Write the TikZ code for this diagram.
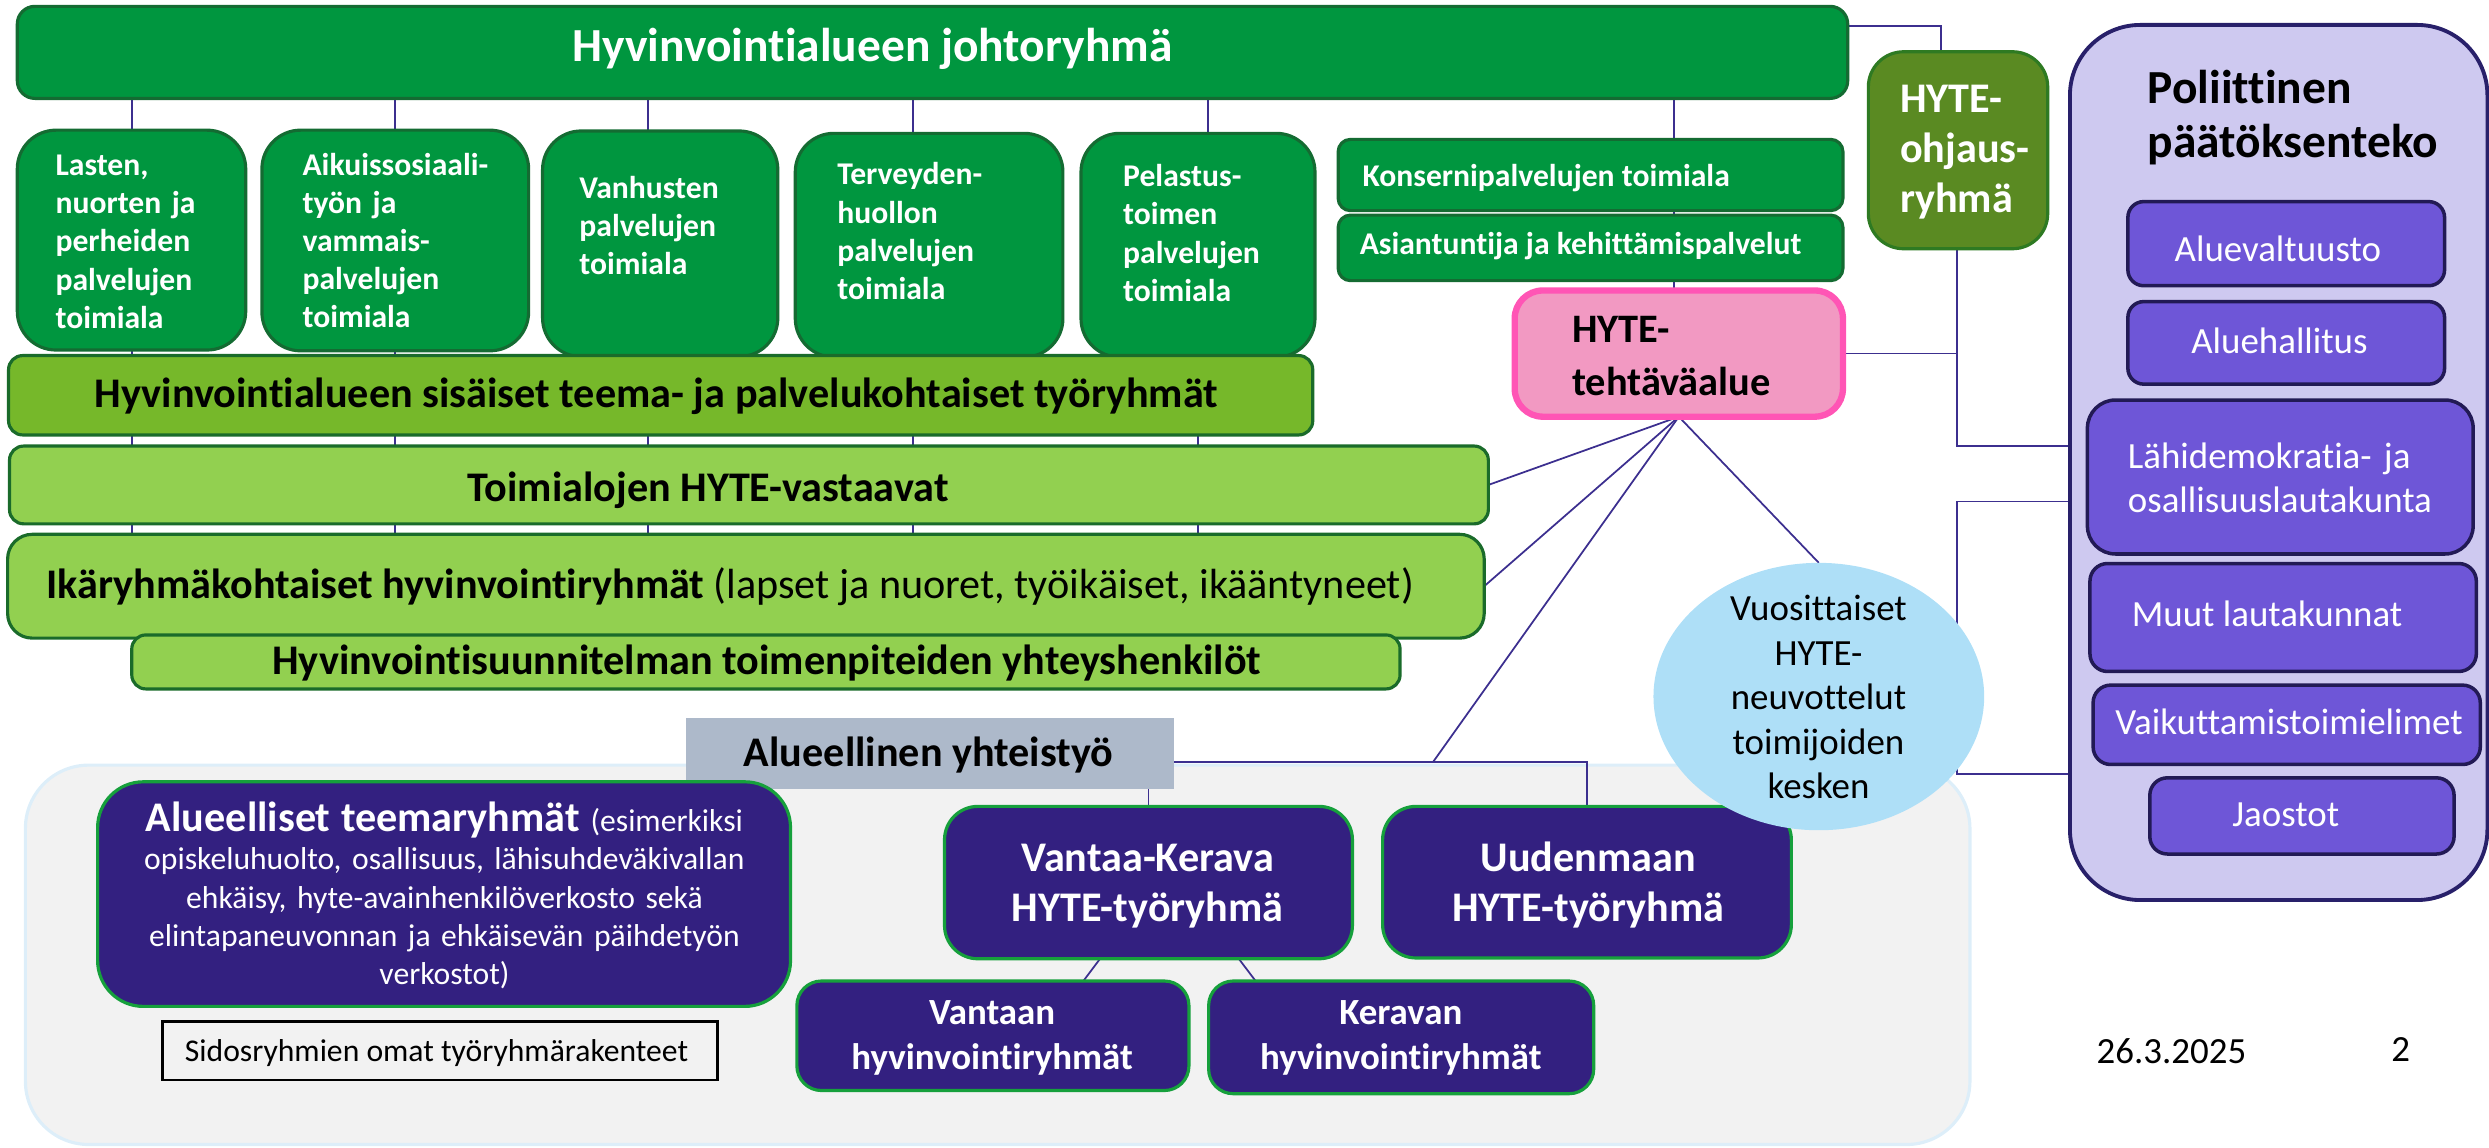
\documentclass[tikz,border=0pt]{standalone}
\usepackage{fontspec}
\setmainfont{Carlito}[Ligatures={NoCommon,NoContextual}]
\usetikzlibrary{shapes.geometric}
\definecolor{dgreen}{HTML}{00963F}
\definecolor{dgline}{HTML}{146B32}
\definecolor{mgreen}{HTML}{76B82A}
\definecolor{lgreen}{HTML}{92D050}
\definecolor{bandline}{HTML}{1A6B2A}
\definecolor{olive}{HTML}{5A8A22}
\definecolor{oliveline}{HTML}{2E7A22}
\definecolor{pinkfill}{HTML}{F299C2}
\definecolor{pinkline}{HTML}{FF55B5}
\definecolor{lav}{HTML}{CEC9F0}
\definecolor{lavline}{HTML}{28206A}
\definecolor{purp}{HTML}{6E56D7}
\definecolor{purpline}{HTML}{221A55}
\definecolor{navy}{HTML}{332080}
\definecolor{navyline}{HTML}{16A03C}
\definecolor{grayblue}{HTML}{ADB9CA}
\definecolor{bggray}{HTML}{F2F2F2}
\definecolor{bgline}{HTML}{DDEEF9}
\definecolor{ellblue}{HTML}{AEDFF7}
\definecolor{conncol}{HTML}{3C2F8F}
\pgfdeclarelayer{bg}
\pgfdeclarelayer{conn}
\pgfsetlayers{bg,conn,main}
\newcommand{\myU}{0.015874cm}
\newcommand{\myfs}[2]{\fontsize{#1}{#2}\selectfont}
\tikzset{
  pbox/.style n args={4}{/utils/exec={\pgfmathsetlengthmacro\pbw{(#3-#1)*\myU}\pgfmathsetlengthmacro\pbh{(#4-#2)*\myU}},
     minimum width=\pbw, minimum height=\pbh, at={({(#1+#3)/2},{(#2+#4)/2})}},
  cbox/.style={draw, line width=0.9pt, inner sep=0pt, outer sep=0pt},
  dg/.style={cbox, draw=dgline, fill=dgreen},
  band/.style={cbox, draw=bandline, fill=lgreen, rounded corners=4pt},
  pb/.style={cbox, draw=purpline, fill=purp, line width=1pt},
  nv/.style={cbox, draw=navyline, fill=navy},
  txt/.style={inner sep=0pt, outer sep=0pt},
  ml/.style={txt, align=left, text width=#1, anchor=base west},
  mc/.style={txt, align=center, text width=#1, anchor=base},
  conn/.style={draw=conncol, line width=0.5pt},
}
\begin{document}
\begin{tikzpicture}[x=0.015874cm,y=-0.015874cm]
\useasboundingbox (0,0) rectangle (1568,723.2);

\begin{pgfonlayer}{bg}
\node[cbox, draw=bgline, fill=bggray, rounded corners=18pt, pbox={16}{482}{1241}{721}] (region) {};
\end{pgfonlayer}

% --- boxes ---
\node[dg, rounded corners=5pt, pbox={10.9}{4}{1164}{62}] (top) {};
\node[dg, rounded corners=11pt, pbox={10.9}{82}{154.8}{220.5}] (t1) {};
\node[dg, rounded corners=11pt, pbox={165}{82}{333}{221}] (t2) {};
\node[dg, rounded corners=11pt, pbox={341.8}{82.5}{490}{224.7}] (t3) {};
\node[dg, rounded corners=11pt, pbox={501}{84}{669.6}{225}] (t4) {};
\node[dg, rounded corners=11pt, pbox={681}{84}{828.4}{225}] (t5) {};
\node[band, fill=mgreen, pbox={5.4}{224}{827}{274}] (sis) {};
\node[band, pbox={6}{281}{937.6}{330}] (toim) {};
\node[band, rounded corners=7pt, pbox={4.8}{336.6}{935}{402}] (ika) {};
\node[band, pbox={83}{400}{882}{434}] (hyv) {};
\node[dg, rounded corners=3.5pt, pbox={843}{87.8}{1161}{132.7}] (kons) {};
\node[dg, rounded corners=3.5pt, pbox={843}{135.5}{1161}{176.8}] (asi) {};
\node[cbox, draw=pinkline, fill=pinkfill, line width=1.8pt, rounded corners=8pt, pbox={954.2}{183}{1161}{262.5}] (pink) {};
\node[cbox, draw=oliveline, fill=olive, rounded corners=10pt, pbox={1177}{32.6}{1290}{156.7}] (ohj) {};
\node[cbox, draw=lavline, fill=lav, line width=1.1pt, rounded corners=20pt, pbox={1304}{15.7}{1567}{567}] (poli) {};
\node[pb, rounded corners=4.5pt, pbox={1340.5}{127}{1540}{180}] (av) {};
\node[pb, rounded corners=4.5pt, pbox={1340.5}{190}{1540}{242}] (ah) {};
\node[pb, rounded corners=8pt, pbox={1315}{252}{1558}{349}] (lahi) {};
\node[pb, rounded corners=5pt, pbox={1316.6}{355}{1560}{423}] (muut) {};
\node[pb, rounded corners=5pt, pbox={1318.6}{431.6}{1562.5}{481.6}] (vaik) {};
\node[pb, rounded corners=5pt, pbox={1354.3}{490}{1546}{538}] (jaos) {};
\node[cbox, draw=none, fill=grayblue, pbox={432}{452}{739.5}{497}] (alu) {};
\node[nv, rounded corners=13pt, pbox={61.5}{492.5}{498}{634}] (teema) {};
\node[cbox, draw=black, fill=bggray, line width=0.8pt, pbox={102.5}{643.6}{452}{680.4}] (sidos) {};
\node[nv, rounded corners=9.5pt, pbox={595}{508}{852}{604}] (vk) {};
\node[nv, rounded corners=9.5pt, pbox={871}{508}{1128.5}{603.5}] (uud) {};
\node[nv, rounded corners=7pt, pbox={502}{618}{749}{687}] (vantaan) {};
\node[nv, rounded corners=7pt, pbox={761.4}{618}{1004}{689}] (keravan) {};
\node[ellipse, fill=ellblue, inner sep=0pt, outer sep=0pt, minimum width=3.306cm, minimum height=2.673cm] (ell) at (1145.8,438.8) {};

% --- connector coordinates ---
\coordinate (c1) at (83.2,0);
\coordinate (c2) at (248.8,0);
\coordinate (c3) at (408.3,0);
\coordinate (c4) at (575.3,0);
\coordinate (c5) at (760.8,0);
\coordinate (d5) at (754.5,0);
\coordinate (c6) at (1054.4,0);
\coordinate (k1) at (1223,16.4);
\coordinate (k3) at (1233,281);
\coordinate (k4) at (1233,316);
\coordinate (k5) at (1233,487.6);
\coordinate (h1) at (902.8,480);
\coordinate (v1) at (693,0);
\coordinate (v2) at (682.5,0);
\coordinate (v3) at (780.4,0);
\coordinate (v4) at (791,0);

\begin{pgfonlayer}{conn}
\foreach \c in {c1,c2,c3,c4} \draw[conn] (top.south -| \c) -- (ika.north -| \c);
\draw[conn] (top.south -| c5) -- (t5.north -| c5);
\draw[conn] (sis.south -| d5) -- (ika.north -| d5);
\draw[conn] (top.south -| c6) -- (pink.north -| c6);
\draw[conn] (top.east |- k1) -| (ohj.north -| k1);
\draw[conn] (ohj.south -| k3) |- (poli.west |- k3);
\draw[conn] (pink.east) -- (pink.east -| k3);
\draw[conn] (poli.west |- k4) -- (k4) -- (k5) -- (poli.west |- k5);
\draw[conn] (pink.south) -- (toim.east);
\draw[conn] (pink.south) -- (ika.east);
\draw[conn] (pink.south) -- (h1);
\draw[conn] (pink.south) -- (ell.north);
\draw[conn] (alu.east |- h1) -| (uud.north);
\draw[conn] (alu.south -| vk.north) -- (vk.north);
\draw[conn] (vk.south -| v1) -- (vantaan.north -| v2);
\draw[conn] (vk.south -| v3) -- (keravan.north -| v4);
\end{pgfonlayer}

% --- texts ---
\node[txt, anchor=base, white, font=\myfs{13.5}{16}\bfseries] (toptxt) at (549.6,38.9) {Hyvinvointialueen johtoryhmä};
\node[ml=3cm, white, font=\myfs{9}{10.84}\bfseries] (t1txt) at (35,110.7) {Lasten,\\nuorten ja\\perheiden\\palvelujen\\toimiala};
\node[ml=3cm, white, font=\myfs{9}{10.84}\bfseries] (t2txt) at (190.6,110.5) {Aikuissosiaali-\\työn ja\\vammais-\\palvelujen\\toimiala};
\node[ml=3cm, white, font=\myfs{9}{10.84}\bfseries] (t3txt) at (365,125) {Vanhusten\\palvelujen\\toimiala};
\node[ml=3cm, white, font=\myfs{9}{10.9}\bfseries] (t4txt) at (527.5,116.5) {Terveyden-\\huollon\\palvelujen\\toimiala};
\node[ml=3cm, white, font=\myfs{9}{10.9}\bfseries] (t5txt) at (707.6,117.6) {Pelastus-\\toimen\\palvelujen\\toimiala};
\node[txt, anchor=base west, white, font=\myfs{9}{11}\bfseries] (konstxt) at (858.4,117.6) {Konsernipalvelujen toimiala};
\node[txt, anchor=base west, white, font=\myfs{9}{11}\bfseries] (asitxt) at (856.6,160.6) {Asiantuntija ja kehittämispalvelut};
\node[ml=3cm, black, font=\myfs{11.5}{14.9}\bfseries] (pinktxt) at (990.4,216) {HYTE-\\tehtäväalue};
\node[ml=3cm, white, font=\myfs{12}{14.2}\bfseries] (ohjtxt) at (1197,71) {HYTE-\\ohjaus-\\ryhmä};
\node[ml=4cm, black, font=\myfs{13.5}{15.4}\bfseries] (politxt) at (1353,65) {Poliittinen\\päätöksenteko};
\node[txt, anchor=base, white, font=\myfs{10.5}{12.5}] (avtxt) at (1435,164.6) {Aluevaltuusto};
\node[txt, anchor=base, white, font=\myfs{10.5}{12.5}] (ahtxt) at (1436,223) {Aluehallitus};
\node[ml=4.5cm, white, font=\myfs{10.5}{12.5}] (lahitxt) at (1340.5,295.4) {Lähidemokratia- ja\\osallisuuslautakunta};
\node[txt, anchor=base west, white, font=\myfs{10.5}{12.5}] (muuttxt) at (1343,394.6) {Muut lautakunnat};
\node[txt, anchor=base, white, font=\myfs{10.5}{12.5}] (vaiktxt) at (1442,463) {Vaikuttamistoimielimet};
\node[txt, anchor=base, white, font=\myfs{10.5}{12.5}] (jaostxt) at (1440,520.6) {Jaostot};
\node[txt, anchor=base, black, font=\myfs{12}{14}\bfseries] (sistxt) at (413.5,257) {Hyvinvointialueen sisäiset teema- ja palvelukohtaiset työryhmät};
\node[txt, anchor=base, black, font=\myfs{12}{14}\bfseries] (toimtxt) at (446,316) {Toimialojen HYTE-vastaavat};
\node[txt, anchor=base, black, font=\myfs{12}{14}] (ikatxt) at (460,377) {{\bfseries Ikäryhmäkohtaiset hyvinvointiryhmät} (lapset ja nuoret, työikäiset, ikääntyneet)};
\node[txt, anchor=base, black, font=\myfs{12}{14}\bfseries] (hyvtxt) at (483,425) {Hyvinvointisuunnitelman toimenpiteiden yhteyshenkilöt};
\node[mc=3cm, black, font=\myfs{10.5}{12.65}] (elltxt) at (1145.6,391) {Vuosittaiset\\HYTE-\\neuvottelut\\toimijoiden\\kesken};
\node[txt, anchor=base, black, font=\myfs{12}{14}\bfseries] (alutxt) at (585,483) {Alueellinen yhteistyö};
\node[mc=7.5cm, white, font=\myfs{9}{10.84}] (teematxt) at (280,524) {{\myfs{12}{14}\bfseries Alueelliset teemaryhmät} (esimerkiksi\\opiskeluhuolto, osallisuus, lähisuhdeväkivallan\\ehkäisy, hyte-avainhenkilöverkosto sekä\\elintapaneuvonnan ja ehkäisevän päihdetyön\\verkostot)};
\node[txt, anchor=base, black, font=\myfs{9}{11}] (sidostxt) at (275,669) {Sidosryhmien omat työryhmärakenteet};
\node[mc=4cm, white, font=\myfs{12}{14.3}\bfseries] (vktxt) at (723,549) {Vantaa-Kerava\\HYTE-työryhmä};
\node[mc=4cm, white, font=\myfs{12}{14.3}\bfseries] (uudtxt) at (1000.5,549) {Uudenmaan\\HYTE-työryhmä};
\node[mc=4cm, white, font=\myfs{10.5}{12.8}\bfseries] (vantxt) at (625,645.7) {Vantaan\\hyvinvointiryhmät};
\node[mc=4cm, white, font=\myfs{10.5}{12.8}\bfseries] (kertxt) at (882.5,645.7) {Keravan\\hyvinvointiryhmät};
\node[txt, anchor=base, black, font=\myfs{10.5}{12}] (datetxt) at (1368,670) {26.3.2025};
\node[txt, anchor=base, black, font=\myfs{10.5}{12}] (pagetxt) at (1512.3,669) {2};
\end{tikzpicture}
\end{document}
